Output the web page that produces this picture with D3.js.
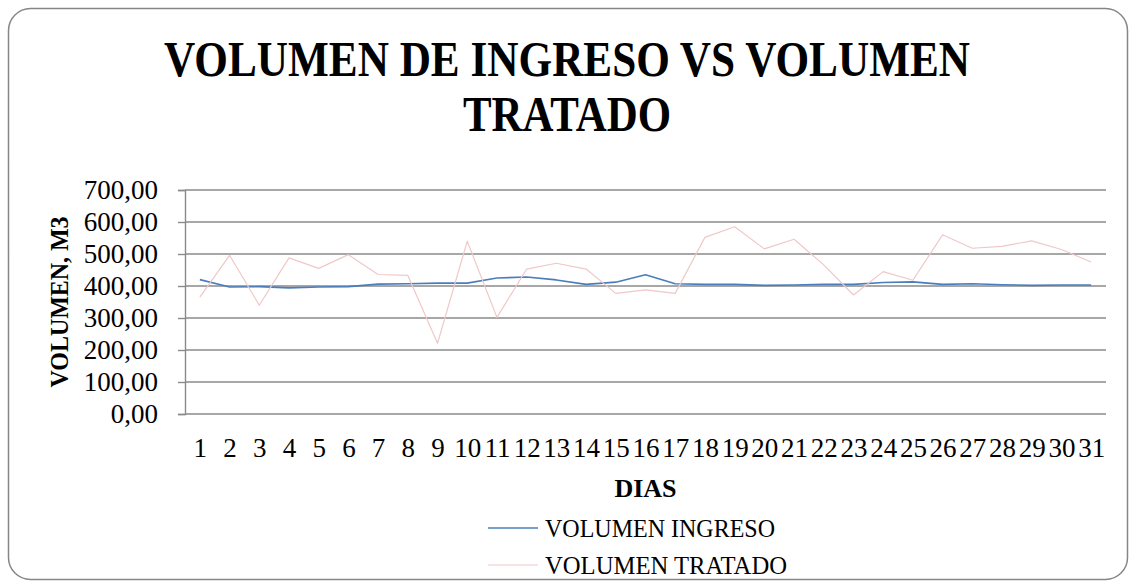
<!DOCTYPE html>
<html lang="es">
<head>
<meta charset="UTF-8">
<title>Volumen de ingreso vs volumen tratado</title>
<script src="https://d3js.org/d3.v7.min.js"></script>
<style>
  body { margin: 0; padding: 0; background: #ffffff; }
  svg { display: block; font-family: "Liberation Serif", "DejaVu Serif", serif; }
</style>
</head>
<body>
<div id="chart"></div>
<script>
// data
const dias = d3.range(1, 32).map(String);
const volumenIngreso = [420, 397, 398, 394, 397, 398, 406, 407, 409, 409, 425, 428, 419, 405, 412, 435,
                        407, 405, 405, 402, 403, 405, 405, 411, 413, 405, 407, 404, 402, 403, 403];
const volumenTratado = [365, 496, 340, 488, 455, 498, 436, 433, 221, 540, 302, 453, 471, 453, 377, 388,
                        377, 552, 585, 516, 546, 466, 372, 445, 418, 560, 518, 524, 541, 514, 475];
const yTicks = [0, 100, 200, 300, 400, 500, 600, 700];
const seriesNames = ["VOLUMEN INGRESO", "VOLUMEN TRATADO"];
const seriesColors = ["#4a7ebb", "#efc8c8"];

const width = 1135, height = 581;
const plot = { left: 185, right: 1106, top: 190, bottom: 414 };

const svg = d3.select("#chart").append("svg")
    .attr("width", width)
    .attr("height", height);

// outer frame
svg.append("rect")
    .attr("x", 8.5).attr("y", 8.5)
    .attr("width", 1119).attr("height", 571)
    .attr("rx", 22).attr("ry", 22)
    .attr("fill", "#fff")
    .attr("stroke", "#868686")
    .attr("stroke-width", 1.5);

// title
const title = svg.append("text")
    .attr("text-anchor", "middle")
    .attr("font-weight", "bold")
    .attr("font-size", 50)
    .attr("fill", "#000");
title.append("tspan").attr("x", 567).attr("y", 76)
    .attr("textLength", 806).attr("lengthAdjust", "spacingAndGlyphs")
    .text("VOLUMEN DE INGRESO VS VOLUMEN");
title.append("tspan").attr("x", 567).attr("y", 131)
    .attr("textLength", 208).attr("lengthAdjust", "spacingAndGlyphs")
    .text("TRATADO");

const x = d3.scalePoint()
    .domain(dias)
    .range([plot.left, plot.right])
    .padding(0.5);

const y = d3.scaleLinear()
    .domain([0, 700])
    .range([plot.bottom, plot.top]);

// gridlines
svg.append("g")
    .selectAll("line")
    .data(yTicks)
    .join("line")
    .attr("x1", plot.left).attr("x2", plot.right)
    .attr("y1", d => y(d)).attr("y2", d => y(d))
    .attr("stroke", "#8a8a8a")
    .attr("stroke-width", 1.4);

// y axis
const yAxis = svg.append("g")
    .attr("transform", `translate(${plot.left},0)`)
    .call(d3.axisLeft(y).tickValues(yTicks).tickSize(7).tickPadding(20)
        .tickFormat(d => d3.format(".2f")(d).replace(".", ",")));
yAxis.select(".domain").attr("stroke", "#8a8a8a").attr("stroke-width", 1.4);
yAxis.selectAll(".tick line").attr("stroke", "#8a8a8a").attr("stroke-width", 1.4);
yAxis.selectAll(".tick text")
    .attr("font-family", "Liberation Serif, serif")
    .attr("font-size", 27)
    .attr("fill", "#000");

// x axis labels
const xAxis = svg.append("g")
    .attr("transform", `translate(0,${plot.bottom})`)
    .call(d3.axisBottom(x).tickSize(0).tickPadding(24));
xAxis.select(".domain").remove();
xAxis.selectAll(".tick text")
    .attr("font-family", "Liberation Serif, serif")
    .attr("font-size", 27)
    .attr("fill", "#000");

// axis titles
svg.append("text")
    .attr("x", (plot.left + plot.right) / 2)
    .attr("y", 497)
    .attr("text-anchor", "middle")
    .attr("font-weight", "bold")
    .attr("font-size", 26)
    .text("DIAS");

svg.append("text")
    .attr("transform", `translate(68,${(plot.top + plot.bottom) / 2}) rotate(-90)`)
    .attr("text-anchor", "middle")
    .attr("font-weight", "bold")
    .attr("font-size", 26)
    .attr("textLength", 171).attr("lengthAdjust", "spacingAndGlyphs")
    .text("VOLUMEN, M3");

// lines
const line = d3.line()
    .x((d, i) => x(dias[i]))
    .y(d => y(d));

[volumenIngreso, volumenTratado].forEach((values, k) => {
    svg.append("path")
        .datum(values)
        .attr("d", line)
        .attr("fill", "none")
        .attr("stroke", seriesColors[k])
        .attr("stroke-width", k === 0 ? 1.6 : 1.2)
        .attr("stroke-linejoin", "round");
});

// legend
const legend = svg.append("g")
    .selectAll("g")
    .data(seriesNames)
    .join("g")
    .attr("transform", (d, i) => `translate(488,${528 + i * 37})`);
legend.append("line")
    .attr("x1", 0).attr("x2", 50)
    .attr("stroke", (d, i) => seriesColors[i])
    .attr("stroke-width", (d, i) => i === 0 ? 1.6 : 1.2);
legend.append("text")
    .attr("x", 57)
    .attr("y", 9)
    .attr("font-size", 26)
    .attr("textLength", (d, i) => i === 0 ? 230 : 242)
    .attr("lengthAdjust", "spacingAndGlyphs")
    .text(d => d);
</script>
</body>
</html>
